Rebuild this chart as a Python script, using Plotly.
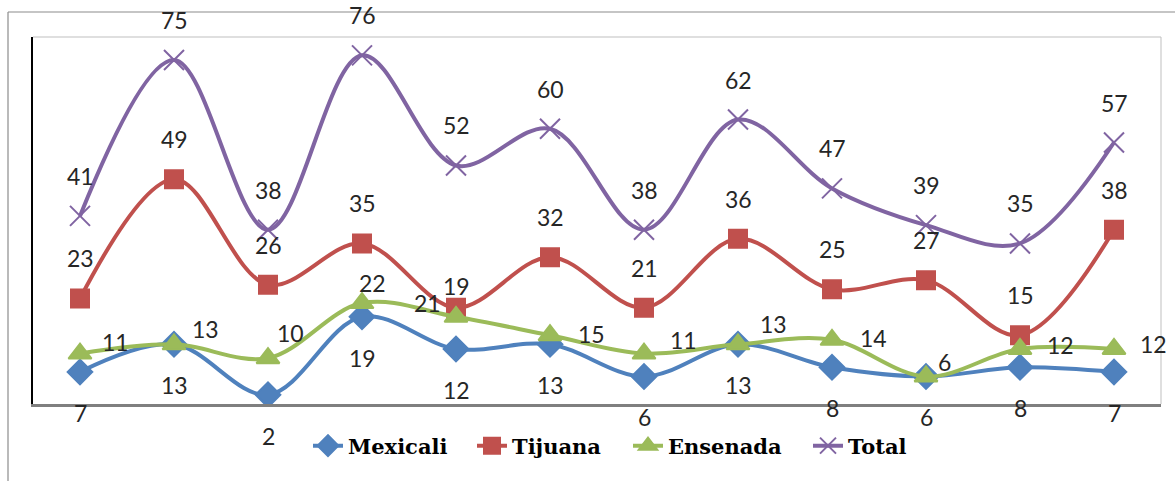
import plotly.graph_objects as go

# Series values per category (12 periods)
categories = list(range(12))
mexicali = [7, 13, 2, 19, 12, 13, 6, 13, 8, 6, 8, 7]
tijuana = [23, 49, 26, 35, 21, 32, 21, 36, 25, 27, 15, 38]
ensenada = [11, 13, 10, 22, 19, 15, 11, 13, 14, 6, 12, 12]
total = [41, 75, 38, 76, 52, 60, 38, 62, 47, 39, 35, 57]

# Label offsets in pixels (xshift, yshift) for each series
mex_off = [(0, -41)] * 12
tij_off = [(0, 40)] * 4 + [(-29, 5)] + [(0, 40)] * 7
ens_off = [(35, 12), (31, 15), (22, 25), (10, 20), (0, 31), (41, 1),
           (39, 14), (35, 20), (41, 2), (18, 14), (40, 4), (39, 5)]
tot_off = [(0, 40)] * 12

W, H = 1175, 481
L, R, T, B = 33, 14, 37, 77
pw, ph = W - L - R, H - T - B


def px_x(p):
    return (p - L) / pw


def px_y(p):
    return (H - B - p) / ph


# name, values, colour, marker symbol, marker size, label offsets, legend id, legend left (px)
series = [
    ("Mexicali", mexicali, "#4F81BD", "diamond", 19, mex_off, "legend", 308),
    ("Tijuana", tijuana, "#C0504D", "square", 18, tij_off, "legend2", 472),
    ("Ensenada", ensenada, "#9BBB59", "triangle-up", 20, ens_off, "legend3", 628),
    ("Total", total, "#8064A2", "x-thin-open", 20, tot_off, "legend4", 808),
]

fig = go.Figure()
annotations = []
legends = {}
for name, vals, color, symbol, size, offs, leg, leg_x in series:
    fig.add_trace(go.Scatter(
        x=categories, y=vals, name=name, mode="lines+markers", legend=leg,
        line=dict(color=color, width=4, shape="spline", smoothing=1.0),
        marker=dict(symbol=symbol, size=size, color=color,
                    line=dict(color=color, width=2)),
    ))
    legends[leg] = dict(
        x=px_x(leg_x), xanchor="left", y=px_y(446), yanchor="middle",
        orientation="h", bgcolor="rgba(0,0,0,0)", borderwidth=0,
        font=dict(family="DejaVu Serif", size=21, color="#000000", weight="bold"),
    )
    for xi, v, (dx, dy) in zip(categories, vals, offs):
        annotations.append(dict(
            x=xi, y=v, xref="x", yref="y", text=str(v), showarrow=False,
            xshift=dx, yshift=dy,
            font=dict(family="Lato", size=23, color="#262626"),
        ))

shapes = [
    # outer chart frame
    dict(type="line", xref="paper", yref="paper", x0=px_x(8), x1=px_x(1176),
         y0=px_y(12), y1=px_y(12), line=dict(color="#8C8C8C", width=1.2)),
    dict(type="line", xref="paper", yref="paper", x0=px_x(8), x1=px_x(8),
         y0=px_y(12), y1=px_y(482), line=dict(color="#8C8C8C", width=1.2)),
    # plot area border (top and right)
    dict(type="line", xref="paper", yref="paper", x0=0, x1=1, y0=1, y1=1,
         line=dict(color="#BFBFBF", width=1)),
    dict(type="line", xref="paper", yref="paper", x0=1, x1=1, y0=0, y1=1,
         line=dict(color="#BFBFBF", width=1)),
]

fig.update_layout(
    width=W, height=H,
    margin=dict(l=L, r=R, t=T, b=B, pad=0),
    paper_bgcolor="white", plot_bgcolor="white",
    showlegend=True,
    xaxis=dict(range=[-0.5, 11.5], showticklabels=False, showgrid=False,
               zeroline=False, showline=True, linecolor="#7F7F7F", linewidth=3,
               ticks=""),
    yaxis=dict(range=[0, 80], showticklabels=False, showgrid=False,
               zeroline=False, showline=True, linecolor="#000000", linewidth=1.5,
               ticks=""),
    annotations=annotations,
    shapes=shapes,
    **legends,
)

fig.write_html("out.html")
